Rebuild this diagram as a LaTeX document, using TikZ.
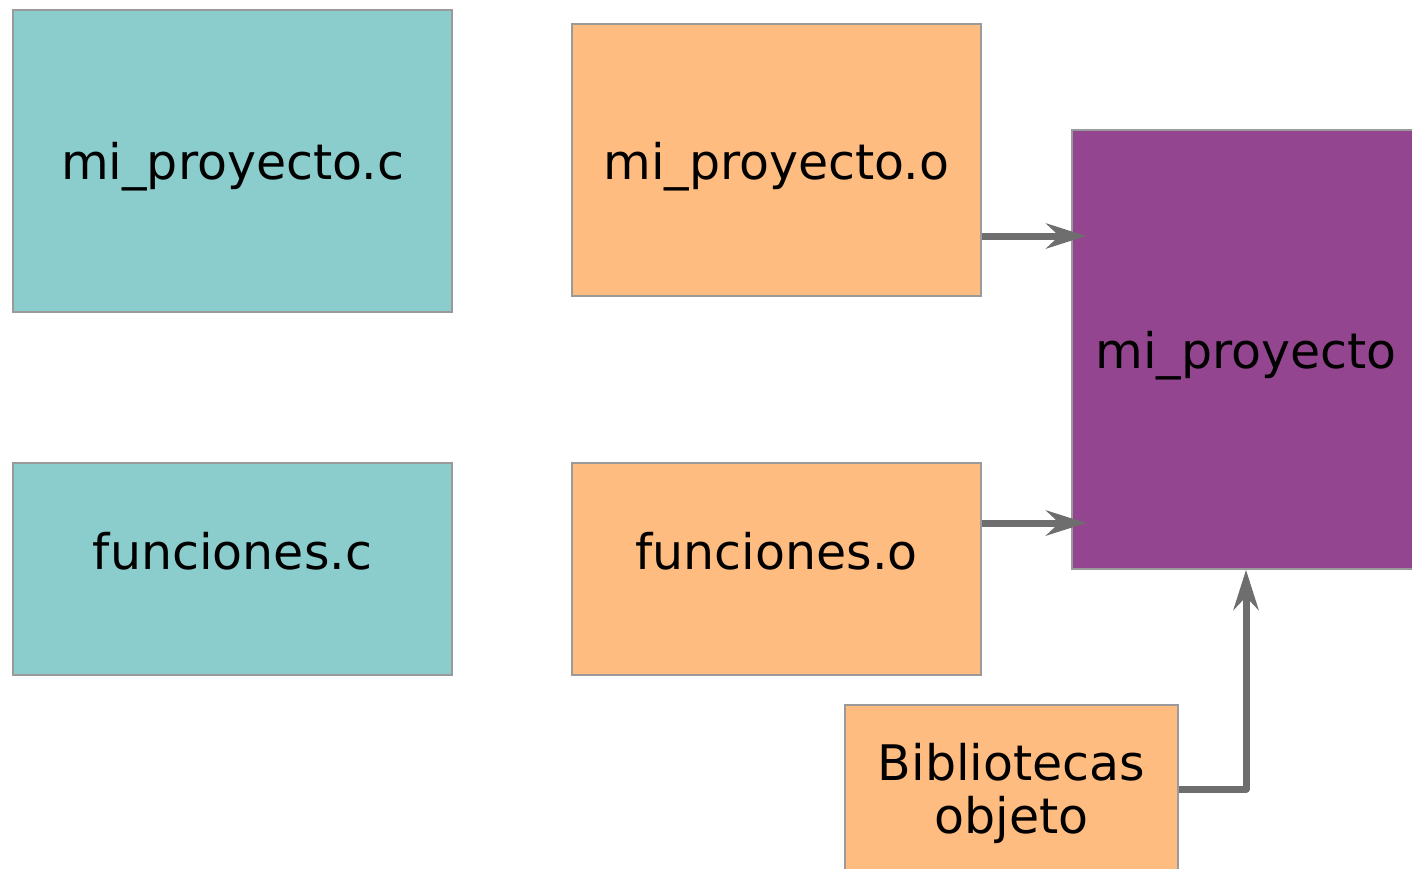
\documentclass[tikz,border=0pt]{standalone}
\usepackage{fontspec}
\setmainfont{DejaVu Sans}
\usetikzlibrary{arrows.meta}
\definecolor{srcfill}{HTML}{8BCCCC}
\definecolor{objfill}{HTML}{FFBC80}
\definecolor{exefill}{HTML}{93468F}
\definecolor{boxline}{HTML}{9A9A9A}
\definecolor{linkline}{HTML}{6E6E6E}
\tikzset{
  box/.style={draw=boxline, line width=1.6pt, inner sep=0pt},
  boxtext/.style={align=center, inner sep=0pt, font=\fontsize{49}{53}\selectfont},
  srcbox/.style={box, fill=srcfill},
  objbox/.style={box, fill=objfill},
  exebox/.style={box, fill=exefill},
  conn/.style={draw=linkline, line width=7pt, line join=round,
    -{Stealth[length=40pt, width=25pt, inset=13pt]}},
}
\begin{document}
\begin{tikzpicture}[x=1pt, y=-1pt]
\useasboundingbox (0,0) rectangle (1412,868);
\clip (0,0) rectangle (1412,868);
% source files
\node[srcbox, minimum width=439pt, minimum height=302pt,
  label={[boxtext, yshift=-6pt]center:mi\_proyecto.c}] (c1) at (232.5,161) {};
\node[srcbox, minimum width=439pt, minimum height=212pt,
  label={[boxtext, yshift=18pt]center:funciones.c}] (c2) at (232.5,569) {};
% object files
\node[objbox, minimum width=409pt, minimum height=272pt,
  label={[boxtext, yshift=-7pt]center:mi\_proyecto.o}] (o1) at (776.5,160) {};
\node[objbox, minimum width=409pt, minimum height=212pt,
  label={[boxtext, yshift=18pt]center:funciones.o}] (o2) at (776.5,569) {};
\node[objbox, minimum width=333pt, minimum height=170pt,
  label={[boxtext, yshift=-3pt]center:Bibliotecas\\objeto}] (lib) at (1011.5,790) {};
% executable
\node[exebox, minimum width=348pt, minimum height=439pt,
  label={[boxtext, yshift=-6.5pt]center:mi\_proyecto}] (exe) at (1246,349.5) {};
% links
\draw[conn, shorten >=-15pt] (o1.east |- 0,236) -- (exe.west |- 0,236);
\draw[conn, shorten >=-15pt] (o2.east |- 0,523) -- (exe.west |- 0,523);
\draw[conn] (lib.east |- 0,789) -| (exe.south);
\end{tikzpicture}
\end{document}
